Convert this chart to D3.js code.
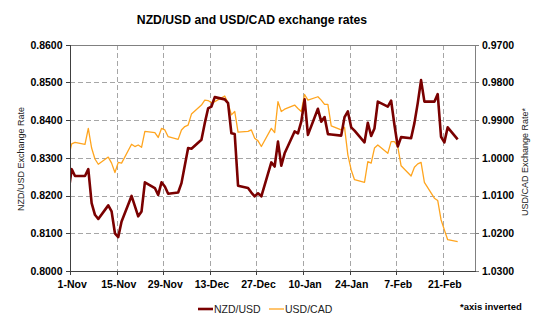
<!DOCTYPE html>
<html>
<head>
<meta charset="utf-8">
<script src="https://cdn.jsdelivr.net/npm/d3@7"></script>
<style>
  html, body { margin: 0; padding: 0; background: #fff; }
  svg { display: block; font-family: "Liberation Sans", Arial, sans-serif; }
</style>
</head>
<body>
<svg id="chart" width="550" height="325"></svg>
<script>
// ---------------- data ----------------
const dates = [
  "2012-10-31",
  "2012-11-01","2012-11-02","2012-11-05","2012-11-06","2012-11-07","2012-11-08","2012-11-09",
  "2012-11-12","2012-11-13","2012-11-14","2012-11-15","2012-11-16","2012-11-19","2012-11-20",
  "2012-11-21","2012-11-22","2012-11-23","2012-11-26","2012-11-27","2012-11-28","2012-11-29","2012-11-30",
  "2012-12-03","2012-12-04","2012-12-05","2012-12-06","2012-12-07","2012-12-10","2012-12-11",
  "2012-12-12","2012-12-13","2012-12-14","2012-12-17","2012-12-18","2012-12-19","2012-12-20",
  "2012-12-21","2012-12-24","2012-12-25","2012-12-26","2012-12-27","2012-12-28","2012-12-31",
  "2013-01-01","2013-01-02","2013-01-03","2013-01-04","2013-01-07","2013-01-08","2013-01-09",
  "2013-01-10","2013-01-11","2013-01-14","2013-01-15","2013-01-16","2013-01-17","2013-01-18",
  "2013-01-21","2013-01-22","2013-01-23","2013-01-24","2013-01-25","2013-01-28","2013-01-29",
  "2013-01-30","2013-01-31",
  "2013-02-01","2013-02-04","2013-02-05","2013-02-06","2013-02-07","2013-02-08","2013-02-11",
  "2013-02-12","2013-02-13","2013-02-14","2013-02-15","2013-02-18","2013-02-19","2013-02-20",
  "2013-02-21","2013-02-22","2013-02-25"
];
const nzdusd = [
  0.8205,
  0.8270,0.8252,0.8252,0.8270,0.8180,0.8149,0.8138,
  0.8174,0.8158,0.8100,0.8090,0.8131,0.8199,0.8172,
  0.8145,0.8158,0.8235,0.8220,0.8202,0.8235,0.8224,0.8205,
  0.8208,0.8233,0.8280,0.8326,0.8324,0.8348,0.8392,
  0.8431,0.8436,0.8461,0.8455,0.8445,0.8365,0.8363,
  0.8226,0.8220,0.8208,0.8198,0.8206,0.8198,0.8288,
  0.8277,0.8343,0.8279,0.8312,0.8370,0.8365,0.8396,
  0.8455,0.8361,0.8430,0.8396,0.8408,0.8363,0.8362,
  0.8359,0.8408,0.8423,0.8381,0.8372,0.8341,0.8393,
  0.8358,0.8378,
  0.8449,0.8436,0.8452,0.8387,0.8330,0.8355,0.8352,
  0.8392,0.8445,0.8506,0.8449,0.8449,0.8469,0.8356,
  0.8341,0.8381,0.8349
];
const usdcad = [
  1.0001,
  0.9963,0.9959,0.9964,0.9922,0.9974,1.0003,1.0017,
  0.9998,1.0014,1.0039,1.0012,1.0014,0.9964,0.9970,
  0.9966,0.9972,0.9930,0.9933,0.9946,0.9922,0.9926,0.9944,
  0.9951,0.9926,0.9917,0.9913,0.9884,0.9860,0.9847,
  0.9848,0.9854,0.9851,0.9836,0.9855,0.9886,0.9877,
  0.9932,0.9930,0.9926,0.9948,0.9955,0.9970,0.9922,
  0.9933,0.9851,0.9877,0.9871,0.9860,0.9869,0.9877,
  0.9832,0.9847,0.9838,0.9847,0.9858,0.9858,0.9915,
  0.9926,0.9919,0.9992,1.0032,1.0058,1.0065,1.0010,
  1.0014,0.9974,
  0.9966,0.9988,0.9957,0.9957,0.9970,1.0021,1.0048,
  1.0025,1.0016,1.0012,1.0065,1.0107,1.0113,1.0164,
  1.0191,1.0217,1.0222
];
const xTickDates = ["2012-11-01","2012-11-15","2012-11-29","2012-12-13","2012-12-27",
                    "2013-01-10","2013-01-24","2013-02-07","2013-02-21"];
const xTickLabels = ["1-Nov","15-Nov","29-Nov","13-Dec","27-Dec","10-Jan","24-Jan","7-Feb","21-Feb"];
const leftTicks  = [0.80, 0.81, 0.82, 0.83, 0.84, 0.85, 0.86];
const rightTicks = [0.97, 0.98, 0.99, 1.00, 1.01, 1.02, 1.03];
const seriesNames = ["NZD/USD", "USD/CAD"];

// ---------------- layout ----------------
const L = 70, R = 475, T = 44.7, B = 271;
const parse = d3.utcParse("%Y-%m-%d");
const halfDay = 12 * 3600 * 1000;
const svg = d3.select("#chart");

const x = d3.scaleUtc()
  .domain([parse("2012-11-01"), new Date(Date.UTC(2013, 2, 2, 17))])
  .range([L, R]);
const yL = d3.scaleLinear().domain([0.80, 0.86]).range([B, T]);
const yR = d3.scaleLinear().domain([0.97, 1.03]).range([T, B]); // inverted

const FONT = '"Liberation Sans", Arial, sans-serif';

// title
svg.append("text")
  .attr("x", 252).attr("y", 23.5)
  .attr("text-anchor", "middle")
  .attr("font-size", 12.2).attr("font-weight", "bold").attr("fill", "#000")
  .text("NZD/USD and USD/CAD exchange rates");

// gridlines
const grid = svg.append("g").attr("stroke", "#a6a6a6").attr("stroke-width", 1)
  .attr("stroke-dasharray", "5,3").attr("shape-rendering", "crispEdges");
grid.selectAll("line.h").data(leftTicks.filter(v => v > 0.80 && v < 0.86)).join("line")
  .attr("x1", L).attr("x2", R)
  .attr("y1", d => Math.round(yL(d)) + 0.5).attr("y2", d => Math.round(yL(d)) + 0.5);
grid.selectAll("line.v").data(xTickDates.slice(1)).join("line")
  .attr("y1", T).attr("y2", B)
  .attr("x1", d => Math.round(x(parse(d))) + 0.5).attr("x2", d => Math.round(x(parse(d))) + 0.5);

// top border
svg.append("line").attr("x1", L).attr("x2", R).attr("y1", Math.round(T) + 0.5).attr("y2", Math.round(T) + 0.5)
  .attr("stroke", "#808080").attr("shape-rendering", "crispEdges");

// clip
svg.append("clipPath").attr("id", "plotclip").append("rect")
  .attr("x", L).attr("y", T).attr("width", R - L).attr("height", B - T);

const rows = dates.map((d, i) => ({ date: new Date(+parse(d) + halfDay), nzd: nzdusd[i], cad: usdcad[i] }));

const plot = svg.append("g").attr("clip-path", "url(#plotclip)");
plot.append("path").datum(rows)
  .attr("fill", "none").attr("stroke", "#FFA51F").attr("stroke-width", 1.3)
  .attr("stroke-linejoin", "round")
  .attr("d", d3.line().x(d => x(d.date)).y(d => yR(d.cad)));
plot.append("path").datum(rows)
  .attr("fill", "none").attr("stroke", "#7A0000").attr("stroke-width", 2.6)
  .attr("stroke-linejoin", "round")
  .attr("d", d3.line().x(d => x(d.date)).y(d => yL(d.nzd)));

// axes
function styleAxis(g, color) {
  g.select(".domain").attr("stroke", color).attr("shape-rendering", "crispEdges");
  g.selectAll(".tick line").attr("stroke", color).attr("shape-rendering", "crispEdges");
  g.selectAll(".tick text").attr("font-family", FONT).attr("font-size", 10.5)
    .attr("font-weight", "bold").attr("fill", "#000");
}
const gL = svg.append("g").attr("transform", `translate(${L},0)`)
  .call(d3.axisLeft(yL).tickValues(leftTicks).tickFormat(d3.format(".4f")).tickSize(4).tickSizeOuter(0).tickPadding(3.5));
styleAxis(gL, "#404040");
const gR = svg.append("g").attr("transform", `translate(${R},0)`)
  .call(d3.axisRight(yR).tickValues(rightTicks).tickFormat(d3.format(".4f")).tickSize(4).tickSizeOuter(0).tickPadding(3));
styleAxis(gR, "#808080");
const gB = svg.append("g").attr("transform", `translate(0,${B})`)
  .call(d3.axisBottom(x).tickValues(xTickDates.map(parse)).tickFormat((d, i) => xTickLabels[i])
    .tickSize(4).tickSizeOuter(0).tickPadding(6));
styleAxis(gB, "#404040");
// labels sit in the middle of each date's slot
gB.selectAll(".tick text").attr("dx", x(new Date(+parse("2012-11-01") + halfDay)) - L);

// axis titles
svg.append("text")
  .attr("transform", "translate(24,159) rotate(-90)")
  .attr("text-anchor", "middle").attr("font-size", 9).attr("fill", "#222")
  .text("NZD/USD Exchange Rate");
svg.append("text")
  .attr("transform", "translate(527.5,162) rotate(-90)")
  .attr("text-anchor", "middle").attr("font-size", 9).attr("fill", "#222")
  .text("USD/CAD Exchange Rate*");

// legend
const legendColors = ["#7A0000", "#FFA51F"];
const legendWidths = [2.6, 1.3];
const legendX = [198, 269];
const lg = svg.append("g");
seriesNames.forEach((name, i) => {
  lg.append("line").attr("x1", legendX[i]).attr("x2", legendX[i] + 15)
    .attr("y1", 309).attr("y2", 309)
    .attr("stroke", legendColors[i]).attr("stroke-width", legendWidths[i]);
  lg.append("text").attr("x", legendX[i] + 16).attr("y", 312.5)
    .attr("font-size", 10.5).attr("fill", "#222").text(name);
});

svg.append("text").attr("x", 460).attr("y", 309.5)
  .attr("font-size", 9.5).attr("font-weight", "bold").attr("fill", "#000")
  .text("*axis inverted");
</script>
</body>
</html>
